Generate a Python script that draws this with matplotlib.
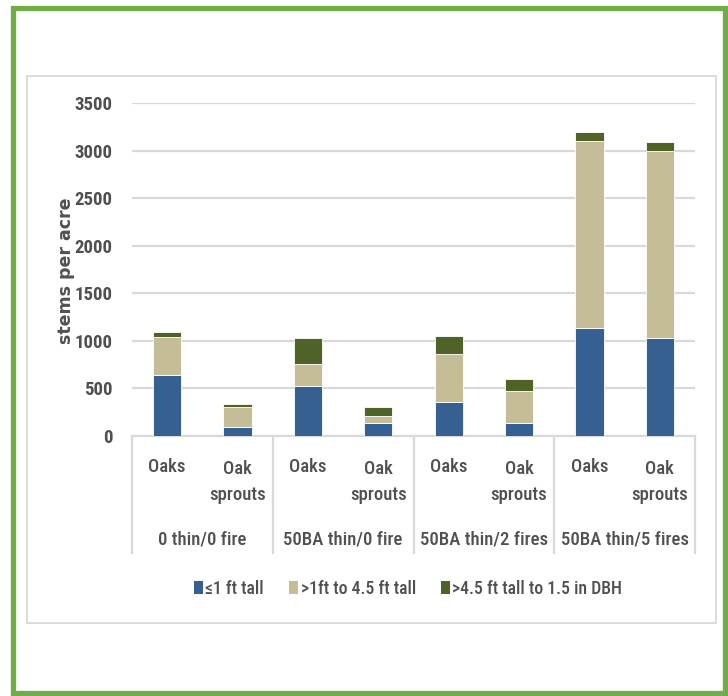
import numpy as np
import matplotlib.pyplot as plt
from matplotlib.patches import Rectangle, Patch

# data
groups = ['0 thin/0 fire', '50BA thin/0 fire', '50BA thin/2 fires', '50BA thin/5 fires']
species = ['Oaks', 'Oak\nsprouts']
series_names = ['≤1 ft tall', '>1ft to 4.5 ft tall', '>4.5 ft tall to 1.5 in DBH']
under_1ft = [645, 90, 530, 135, 360, 135, 1130, 1025]
ft1_to_45 = [395, 220, 225, 70, 500, 340, 1970, 1970]
over_45ft = [50, 30, 270, 105, 190, 125, 100, 90]
colors = ['#366092', '#C4BD97', '#4F6228']

W, H = 728, 696
txt_col = '#505050'
grid_col = '#D9D9D9'
narrow = ['Liberation Sans Narrow', 'DejaVu Sans Condensed', 'Roboto Condensed',
          'Open Sans Condensed', 'Lato', 'DejaVu Sans']

fig = plt.figure(figsize=(W / 100, H / 100), dpi=100)
ax = fig.add_axes([132 / W, 1 - 436 / H, (695 - 132) / W, (436 - 103) / H])

x = np.arange(len(under_1ft))
bottom = np.zeros(len(x))
for vals, col in zip([under_1ft, ft1_to_45, over_45ft], colors):
    ax.bar(x, vals, width=0.4, bottom=bottom, color=col, edgecolor='white', linewidth=0.6, zorder=3)
    bottom += np.array(vals)

ax.set_xlim(-0.5, len(x) - 0.5)
ax.set_ylim(0, 3500)
ax.set_yticks(np.arange(0, 3501, 500))
ax.yaxis.grid(True, color=grid_col, linewidth=1.6, zorder=0)
ax.tick_params(axis='y', length=0, pad=14, labelcolor=txt_col, labelsize=13.5)
for lab in ax.get_yticklabels():
    lab.set_family(narrow)
    lab.set_fontweight('bold')
ax.set_xticks([])
for s in ['left', 'right', 'top']:
    ax.spines[s].set_visible(False)
ax.spines['bottom'].set_color(grid_col)
ax.spines['bottom'].set_linewidth(1.6)

fig.text(66 / W, 1 - 271 / H, 'stems per acre', rotation=90, ha='center', va='center',
         color=txt_col, fontsize=12.5, fontweight='bold', family='DejaVu Sans')

# multi-level category axis
tr = ax.get_xaxis_transform()
for b in np.arange(-0.5, len(x), 2):
    ax.plot([b, b], [0, -0.352], transform=tr, color=grid_col, lw=1.6, clip_on=False)
for i in x:
    sp = species[i % 2]
    ax.text(i, -0.093 if '\n' not in sp else -0.138, sp, transform=tr, ha='center', va='center',
            color=txt_col, fontsize=13.5, fontweight='medium', family=narrow, linespacing=1.6)
for g, name in enumerate(groups):
    ax.text(2 * g + 0.5, -0.312, name, transform=tr, ha='center', va='center',
            color=txt_col, fontsize=13.5, fontweight='medium', family=narrow)

handles = [Patch(facecolor=c, edgecolor='none') for c in colors]
fig.legend(handles, series_names, loc='center', bbox_to_anchor=(408 / W, 1 - 589 / H), ncol=3,
           frameon=False, handlelength=0.5, handleheight=0.72, handletextpad=0.15, columnspacing=1.4,
           prop={'family': narrow, 'size': 12.8, 'weight': 'medium'}, labelcolor=txt_col)

# chart area box and green frame
fig.add_artist(Rectangle((27 / W, 1 - 623 / H), (716 - 27) / W, (623 - 76) / H,
                         transform=fig.transFigure, fill=False, edgecolor=grid_col, lw=1.3))
fig.add_artist(Rectangle((12.5 / W, 1 - 693 / H), (725 - 12.5) / W, (693 - 8) / H,
                         transform=fig.transFigure, fill=False, edgecolor='#70AD47', lw=3.8))

fig.savefig('out.png', dpi=100)
